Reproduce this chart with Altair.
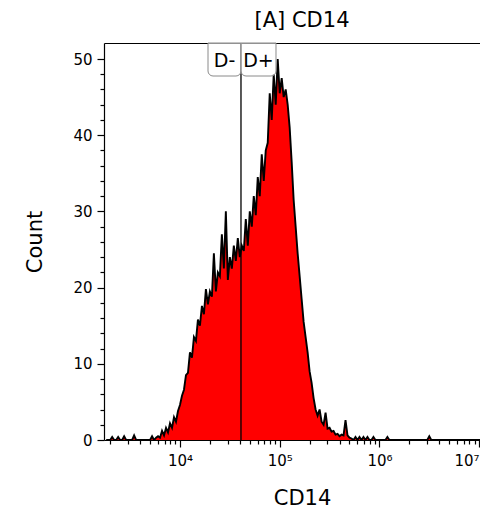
import altair as alt
import pandas as pd

FONT = "DejaVu Sans"

# Histogram bins: centres in log10(CD14), first bin and step
LOG_START = 3.26
LOG_STEP = 0.02
counts = [
    0, 0, 0, 0.4, 0, 0, 0.4, 0, 0, 0.5,
    0, 0, 0, 0, 0.6, 0, 0, 0, 0, 0,
    0, 0, 0, 0.5, 0, 0.3, 0.5, 0.3, 1.2, 0.6,
    1.6, 1.0, 2.2, 1.6, 3.0, 2.4, 3.8, 4.6, 5.8, 6.6,
    8.5, 8.8, 11.5, 10.8, 13.5, 13.0, 15.8, 15.0, 17.6, 16.5,
    19.8, 17.8, 19.5, 18.8, 24.5, 19.5, 22.0, 21.5, 27.0, 22.5,
    30.0, 21.0, 24.0, 22.5, 25.5, 23.5, 26.5, 24.0, 25.5, 24.8,
    29.0, 25.5, 30.0, 28.0, 32.0, 29.5, 34.5, 32.0, 37.5, 34.0,
    38.0, 39.0, 45.5, 42.0, 48.0, 44.0, 50.0, 45.5, 47.5, 45.0,
    46.0, 44.0, 41.0, 36.5, 31.5, 28.0, 24.5, 21.5, 18.5, 15.5,
    13.5, 11.5, 9.0, 7.5, 5.5, 4.0, 3.2, 4.0, 2.4, 2.0,
    3.6, 1.5, 1.6, 1.1, 1.2, 0.7, 0.8, 0.5, 0.7, 0.6,
    2.6, 0.6, 0.3, 0.2, 0, 0.4, 0, 0.4, 0, 0.4,
    0, 0.4, 0, 0, 0.4, 0, 0, 0, 0, 0,
    0, 0.4, 0, 0, 0, 0, 0, 0, 0, 0,
    0, 0, 0, 0, 0, 0, 0, 0, 0, 0,
    0, 0, 0.5, 0, 0, 0, 0, 0, 0, 0,
    0, 0, 0, 0, 0, 0, 0, 0, 0, 0,
    0, 0, 0, 0, 0, 0, 0, 0, 0, 0,
]

x_domain = [1730, 10200000]
y_domain = [0, 52.1]
x_major = [1e4, 1e5, 1e6, 1e7]
x_minor = [m * d for d in (1e3, 1e4, 1e5, 1e6) for m in range(2, 10)]
y_major = [0, 10, 20, 30, 40, 50]
y_minor = [2, 4, 6, 8, 12, 14, 16, 18, 22, 24, 26, 28, 32, 34, 36, 38, 42, 44, 46, 48]

gate_pos = [40900]
gate_labels = ["D-", "D+"]
gate_lo = [19100, 40900]
gate_hi = [40900, 91800]

W, H = 376, 397

df = pd.DataFrame({
    "x": [10 ** (LOG_START + LOG_STEP * i) for i in range(len(counts))],
    "count": counts,
})
gate_df = pd.DataFrame({"pos": gate_pos})
box_df = pd.DataFrame({"label": gate_labels, "lo": gate_lo, "hi": gate_hi})

xscale = alt.Scale(type="log", domain=x_domain, nice=False)
yscale = alt.Scale(domain=y_domain, nice=False, zero=False)

label_expr = "'10' + (datum.value < 5e4 ? '⁴' : datum.value < 5e5 ? '⁵' : datum.value < 5e6 ? '⁶' : '⁷')"

base = alt.Chart(df)

area = base.mark_area(color="#ff0000", interpolate="linear", clip=True).encode(
    x=alt.X("x:Q", scale=xscale, axis=alt.Axis(
        values=x_major, orient="bottom", title="CD14", labelExpr=label_expr,
        tickSize=7, labelPadding=6, titlePadding=19, titleX=198, grid=False)),
    y=alt.Y("count:Q", scale=yscale, axis=alt.Axis(
        values=y_major, orient="left", title="Count", tickSize=7,
        labelPadding=5, titlePadding=27, grid=False)),
)

line = base.mark_line(color="black", strokeWidth=1.9, interpolate="linear",
                      strokeJoin="miter", clip=True).encode(
    x=alt.X("x:Q", scale=xscale, axis=alt.Axis(
        values=x_minor, orient="bottom", labels=False, domain=False,
        title=None, tickSize=4, grid=False)),
    y=alt.Y("count:Q", scale=yscale, axis=alt.Axis(
        values=y_minor, orient="left", labels=False, domain=False,
        title=None, tickSize=4, grid=False)),
)

gate_rule = alt.Chart(gate_df).mark_rule(color="black", strokeWidth=1.3).encode(
    x=alt.X("pos:Q", scale=xscale, axis=alt.Axis(
        orient="top", ticks=False, labels=False, domain=True, title=None, grid=False)),
    y=alt.value(0),
    y2=alt.value(H),
)

boxes = alt.Chart(box_df).mark_rect(
    fill="white", fillOpacity=0.6, stroke="#8a8a8a", strokeWidth=1,
    cornerRadiusBottomLeft=5, cornerRadiusBottomRight=5,
).encode(
    x=alt.X("lo:Q", scale=xscale, axis=None),
    x2="hi:Q",
    y=alt.value(0),
    y2=alt.value(33),
)

texts = alt.Chart(box_df).transform_calculate(
    mid="sqrt(datum.lo * datum.hi)"
).mark_text(font=FONT, fontSize=19, color="black", align="center", baseline="middle").encode(
    x=alt.X("mid:Q", scale=xscale, axis=None),
    y=alt.value(18),
    text="label:N",
)

chart = alt.layer(area, line, gate_rule, boxes, texts).resolve_axis(
    x="independent", y="independent"
).properties(
    width=W,
    height=H,
    title=alt.TitleParams("[A] CD14", font=FONT, fontSize=21, fontWeight="normal",
                          anchor="middle", dx=10, offset=11, color="black"),
    autosize=alt.AutoSizeParams(type="none"),
    padding={"left": 96, "top": 35, "right": 0, "bottom": 70},
).configure_view(stroke=None).configure_axis(
    domainColor="black", tickColor="black", labelColor="black", titleColor="black",
    labelFont=FONT, titleFont=FONT, labelFontSize=15, titleFontSize=21,
    titleFontWeight="normal", domainWidth=1.2, tickWidth=1.2,
)

chart.save("out.html", embed_options={"renderer": "svg", "actions": False})
